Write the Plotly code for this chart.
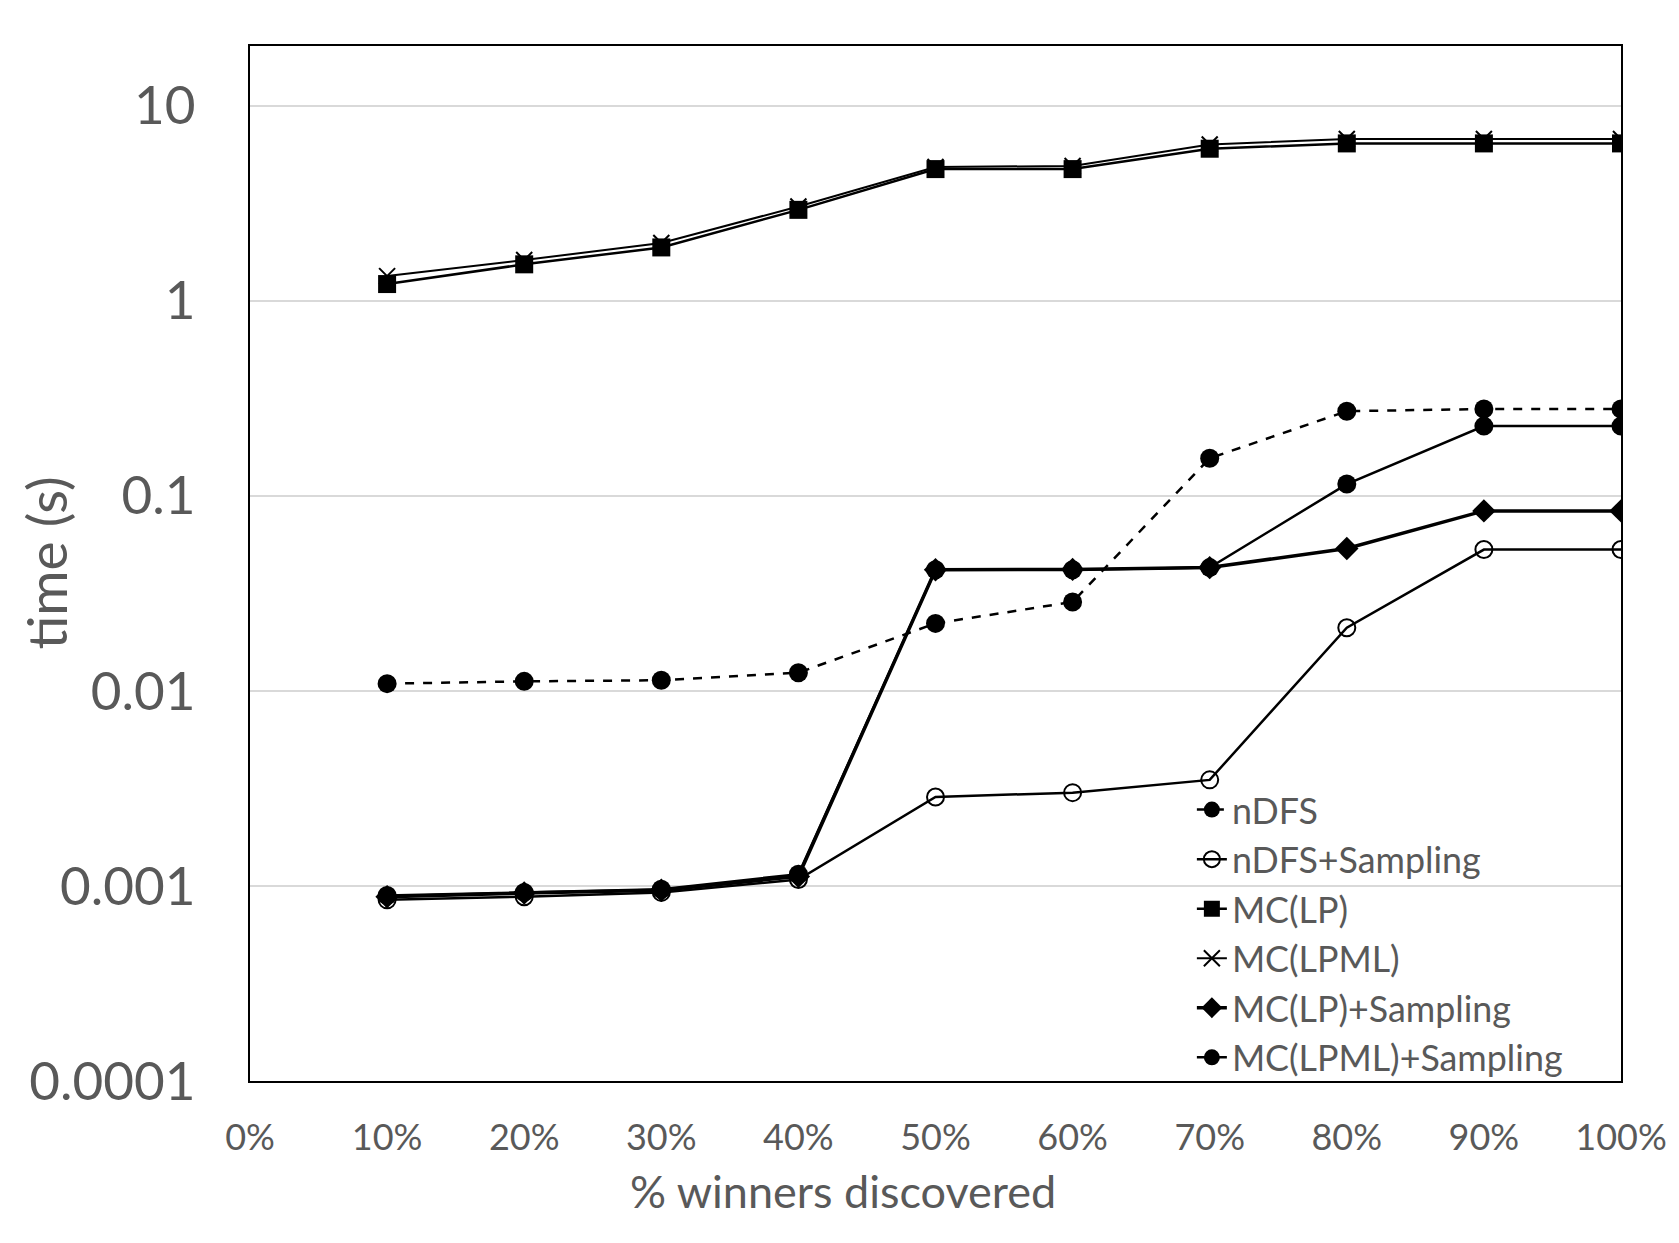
import plotly.graph_objects as go

x_vals = [0.1, 0.2, 0.3, 0.4, 0.5, 0.6, 0.7, 0.8, 0.9, 1.0]
ndfs = [0.0109, 0.0112, 0.01135, 0.0124, 0.0222, 0.0286, 0.156, 0.272, 0.279, 0.279]
ndfs_sampling = [0.000849, 0.000881, 0.000927, 0.00108, 0.00286, 0.00301, 0.00350, 0.0211, 0.0531, 0.0531]
mc_lp = [1.22, 1.54, 1.88, 2.93, 4.74, 4.74, 6.03, 6.42, 6.42, 6.42]
mc_lpml = [1.34, 1.62, 1.98, 3.05, 4.86, 4.92, 6.34, 6.76, 6.76, 6.76]
mc_lp_sampling = [0.00088, 0.00092, 0.00095, 0.00112, 0.0418, 0.0420, 0.0429, 0.0538, 0.0838, 0.0838]
mc_lpml_sampling = [0.000893, 0.000927, 0.000963, 0.00115, 0.0418, 0.0418, 0.0429, 0.115, 0.228, 0.228]

x_ticks = [0, 0.1, 0.2, 0.3, 0.4, 0.5, 0.6, 0.7, 0.8, 0.9, 1.0]
x_labels = ["0%", "10%", "20%", "30%", "40%", "50%", "60%", "70%", "80%", "90%", "100%"]
y_ticks = [0.0001, 0.001, 0.01, 0.1, 1, 10]
y_labels = ["0.0001", "0.001", "0.01", "0.1", "1", "10"]

GREY = "#595959"
FONT = "Lato, 'Open Sans', sans-serif"

fig = go.Figure()
fig.add_trace(go.Scatter(x=x_vals, y=ndfs, name="nDFS", mode="lines+markers",
                         line=dict(color="black", width=2.5, dash="dash"),
                         marker=dict(symbol="circle", size=19, color="black")))
fig.add_trace(go.Scatter(x=x_vals, y=ndfs_sampling, name="nDFS+Sampling", mode="lines+markers",
                         line=dict(color="black", width=2.5),
                         marker=dict(symbol="circle-open", size=17, color="black", line=dict(width=2, color="black"))))
fig.add_trace(go.Scatter(x=x_vals, y=mc_lp, name="MC(LP)", mode="lines+markers",
                         line=dict(color="black", width=2.5),
                         marker=dict(symbol="square", size=18, color="black")))
fig.add_trace(go.Scatter(x=x_vals, y=mc_lpml, name="MC(LPML)", mode="lines+markers",
                         line=dict(color="black", width=2),
                         marker=dict(symbol="x-thin", size=16, color="black", line=dict(width=2, color="black"))))
fig.add_trace(go.Scatter(x=x_vals, y=mc_lp_sampling, name="MC(LP)+Sampling", mode="lines+markers",
                         line=dict(color="black", width=3.5),
                         marker=dict(symbol="diamond", size=18, color="black")))
fig.add_trace(go.Scatter(x=x_vals, y=mc_lpml_sampling, name="MC(LPML)+Sampling", mode="lines+markers",
                         line=dict(color="black", width=2.5),
                         marker=dict(symbol="circle", size=19, color="black")))

fig.update_layout(
    width=1679, height=1243,
    margin=dict(l=250, r=58, t=46, b=162),
    paper_bgcolor="white", plot_bgcolor="white",
    font=dict(family=FONT, color=GREY),
    showlegend=True,
    legend=dict(x=0.687, y=0.291, xanchor="left", yanchor="top",
                bgcolor="rgba(0,0,0,0)", font=dict(size=35.8, color=GREY, family=FONT),
                tracegroupgap=0),
    xaxis=dict(range=[0, 1], tickvals=x_ticks, ticktext=x_labels, showgrid=False,
               zeroline=False, showline=True, linecolor="black", linewidth=2, mirror=True,
               ticks="", tickfont=dict(size=36, color=GREY, family=FONT), ticklabelstandoff=24),
    yaxis=dict(type="log", range=[-4, 1.307], tickvals=y_ticks, ticktext=y_labels,
               showgrid=True, gridcolor="#d9d9d9", gridwidth=1.5, zeroline=False,
               showline=True, linecolor="black", linewidth=2, mirror=True,
               ticks="", tickfont=dict(size=53, color=GREY, family=FONT), ticklabelstandoff=42),
    annotations=[
        dict(text="% winners discovered", xref="paper", yref="paper", x=0.4325, y=-0.106,
             xanchor="center", yanchor="middle", showarrow=False,
             font=dict(size=45, color=GREY, family=FONT)),
        dict(text="time (s)", xref="paper", yref="paper", x=-0.1495, y=0.5,
             xanchor="center", yanchor="middle", showarrow=False, textangle=-90,
             font=dict(size=55, color=GREY, family=FONT)),
    ],
)

fig.write_html("out.html")
